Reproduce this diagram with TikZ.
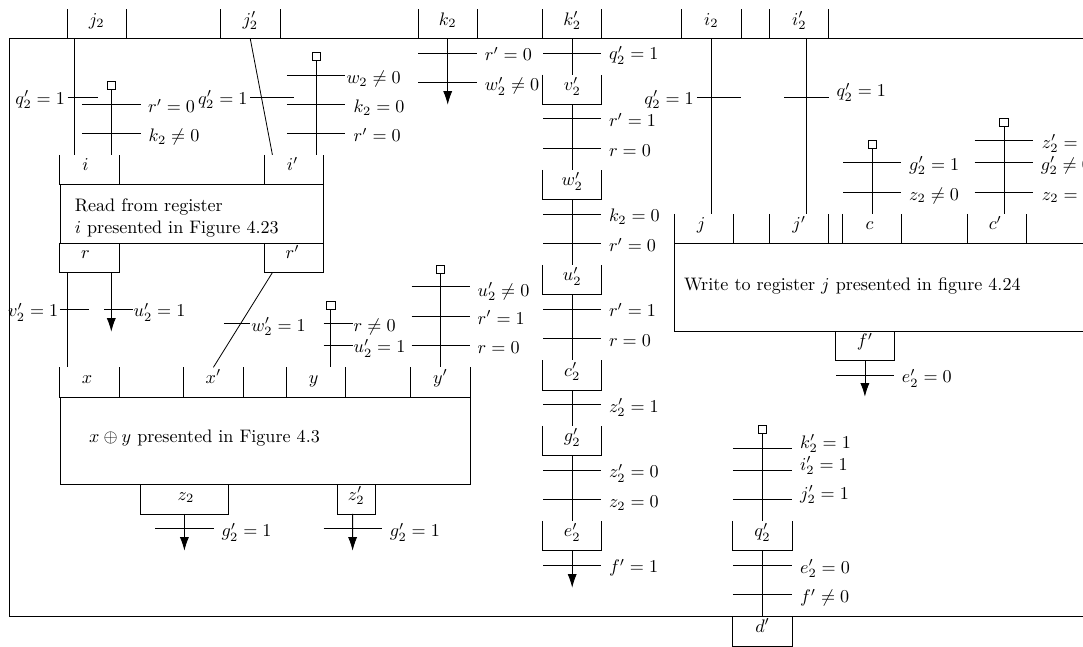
\documentclass[tikz,border=0pt]{standalone}
\usepackage{amsmath}
\usepackage{amssymb}
\usetikzlibrary{arrows.meta,calc}
\tikzset{
  regport/.style={rectangle, inner sep=0pt, minimum width=32.3pt, minimum height=16pt,
                  text height=4.3pt, text depth=3.1pt,
                  append after command={\pgfextra{\draw (\tikzlastnode.north west)--(\tikzlastnode.south west)--(\tikzlastnode.south east)--(\tikzlastnode.north east);}}},
  regblk/.style={rectangle, draw, inner sep=0pt},
  gsq/.style={rectangle, draw, inner sep=0pt, minimum size=4.6pt},
  garr/.style={-{Latex[length=7.5pt,width=5pt]}},
  glab/.style={inner sep=0pt, anchor=base west},
}
% bar across a wire, with its condition: name, x1, x2, y, label x, label baseline, text
\newcommand{\guardbar}[8][glab]{%
  \node[#1] (#2) at (#6,#7) {$#8$};
  \coordinate (#2l) at (#3,#5);
  \coordinate (#2r) at (#4,#5);
  \draw (#2l)--(#2r);
}
\begin{document}
\begin{tikzpicture}[x=0.552pt,y=-0.552pt,line width=0.45pt]
        \useasboundingbox (0,0) rectangle (1083,646);
        \node[regblk,minimum width=613.4pt,minimum height=318.8pt,anchor=north west](frame)at(8.8,38.5){};
        % ports on the frame
        \node[regport](jtwo)at(96.7,24){$j_2$};
        \node[regport](jtwop)at(250.3,24){$j_2'$};
        \node[regport](ktwo)at(447.7,24){$k_2$};
        \node[regport](ktwop)at(572.2,24){$k_2'$};
        \node[regport](itwo)at(711.4,24){$i_2$};
        \node[regport](itwop)at(799.2,24){$i_2'$};
        \node[regport](dp)at(762.5,631){$d'$};
        % read block
        \node[regblk,minimum width=145.3pt,minimum height=32.4pt,anchor=north west](readblk)at(60.2,184.3){};
        \node[inner sep=0pt,anchor=west,align=left](readtxt)at(74.4,218){Read from register\\$i$ presented in Figure 4.23};
        \node[regport](i)at(89.5,169.7){$i\;\,$};
        \node[regport](ip)at(294,169.7){$i'\,$};
        \node[regport](r)at(89.5,257.7){$r\;\,$};
        \node[regport](rp)at(294,257.7){$r'\,$};
        % xor block
        \node[regblk,minimum width=226.2pt,minimum height=48.4pt,anchor=north west](xorblk)at(60.2,396.7){};
        \node[glab](xortxt)at(88.8,442.7){$x\oplus y$ presented in Figure 4.3};
        \node[regport](x)at(89.5,382.2){$x\;$};
        \node[regport](xp)at(213.4,382.2){$x'$};
        \node[regport](y)at(316.1,382.2){$y\;$};
        \node[regport](yp)at(440.4,382.2){$y'$};
        \node[regport,minimum width=48.5pt](ztwo)at(184.4,499){$\,z_2$};
        \node[regport,minimum width=20.4pt](ztwop)at(356.2,499){$z_2'$};
        % write block
        \node[regblk,minimum width=246pt,minimum height=48.4pt,anchor=north west](writeblk)at(674.3,243.3){};
        \node[glab](writetxt)at(683.7,290){Write to register $j$ presented in figure 4.24};
        \node[regport](j)at(703.7,228.7){$j\;$};
        \node[regport](jp)at(799.2,228.7){$j'$};
        \node[regport](c)at(872.1,228.7){$c\;$};
        \node[regport](cp)at(996.8,228.7){$c'\,$};
        \node[regport](fp)at(864.9,345.7){$f'$};
        % middle column
        \node[regport](vtwop)at(572.2,89.5){$v_2'$};
        \node[regport](wtwop)at(572.2,184.7){$w_2'$};
        \node[regport](utwop)at(572.2,279.8){$u_2'$};
        \node[regport](ctwop)at(572.2,375.2){$c_2'$};
        \node[regport](gtwop)at(572.2,440.8){$g_2'$};
        \node[regport](etwop)at(572.2,535.8){$e_2'$};
        \node[regport](qtwop)at(762.5,535.8){$q_2'$};
        % start squares
        \node[gsq](sqi)at(111.3,85.5){};
        \node[gsq](sqip)at(316.1,56.3){};
        \node[gsq](sqy)at(330.9,305.7){};
        \node[gsq](sqyp)at(440.4,269.5){};
        \node[gsq](sqc)at(872.1,144.3){};
        \node[gsq](sqcp)at(1004,122.7){};
        \node[gsq](sqq)at(762.5,429.7){};
        % arrow ends
        \coordinate(ktwoend)at(447.7,104.7);
        \coordinate(rend)at(111.3,331.7);
        \coordinate(ztwoend)at(184.4,550.7);
        \coordinate(ztwopend)at(352.6,550.7);
        \coordinate(etwoend)at(572.2,587.7);
        \coordinate(fpend)at(864.9,396.7);
        % wires
        \draw($(jtwo.south)+(-21.8,0)$)--($(i.north)+(-14.6,0)$);
        \draw(jtwop.south)--($(ip.north)+(-21.6,0)$);
        \draw(sqi.south)--(sqi.south|-i.north);
        \draw(sqip.south)--(sqip.south|-ip.north);
        \draw[garr](ktwo.south)--(ktwoend);
        \draw(ktwop.south)--(vtwop.north);
        \draw(vtwop.south)--(wtwop.north);
        \draw(wtwop.south)--(utwop.north);
        \draw(utwop.south)--(ctwop.north);
        \draw(ctwop.south)--(gtwop.north);
        \draw(gtwop.south)--(etwop.north);
        \draw[garr](etwop.south)--(etwoend);
        \draw(itwo.south)--(itwo.south|-j.north);
        \draw($(itwop.south)+(7,0)$)--($(jp.north)+(7,0)$);
        \draw(sqc.south)--(c.north);
        \draw(sqcp.south)--(sqcp.south|-cp.north);
        \draw[garr](fp.south)--(fpend);
        \draw(sqq.south)--(qtwop.north);
        \draw(qtwop.south)--(dp.north);
        \draw($(r.south)+(-22,0)$)--($(x.north)+(-22,0)$);
        \draw[garr]($(r.south)+(21.8,0)$)--(rend);
        \draw($(rp.south)+(-21.6,0)$)--(xp.north);
        \draw(sqy.south)--(sqy.south|-y.north);
        \draw(sqyp.south)--(yp.north);
        \draw[garr](ztwo.south)--(ztwoend);
        \draw[garr]($(ztwop.south)+(-3.6,0)$)--(ztwopend);
        % conditions
        \guardbar[glab,anchor=base east]{ga}{67.5}{98.1}{97}{65.3}{104.3}{q_2'=1}
        \guardbar{gb}{81.9}{140.5}{104}{147.7}{112.7}{r'=0}
        \guardbar{gc}{81.9}{140.5}{133.5}{148.2}{141.7}{k_2\neq0}
        \guardbar[glab,anchor=base east]{gd}{250}{294.4}{97}{247.9}{104.3}{q_2'=1}
        \guardbar{ge}{286.9}{345.4}{75}{346.1}{83.3}{w_2\neq0}
        \guardbar{gf}{286.9}{345.4}{104}{353.3}{112.7}{k_2=0}
        \guardbar{gg}{286.9}{345.4}{133.5}{353.3}{141.7}{r'=0}
        \guardbar{gh}{418.4}{477.3}{53}{484.5}{60.7}{r'=0}
        \guardbar{gi}{418.4}{477.3}{82}{484.5}{90.7}{w_2'\neq0}
        \guardbar{gj}{543.1}{601.3}{53}{608.6}{60}{q_2'=1}
        \guardbar{gk}{543.1}{601.3}{118.7}{608.6}{126.7}{r'=1}
        \guardbar{gl}{543.1}{601.3}{148}{608.6}{156.7}{r=0}
        \guardbar{gm}{543.1}{601.3}{214}{608.6}{221.7}{k_2=0}
        \guardbar{gn}{543.1}{601.3}{243.3}{608.6}{251.7}{r'=0}
        \guardbar{go}{543.1}{601.3}{309}{608.6}{316.7}{r'=1}
        \guardbar{gp}{543.1}{601.3}{338.3}{608.6}{346.7}{r=0}
        \guardbar{gq}{543.1}{601.3}{404.3}{608.6}{412.3}{z_2'=1}
        \guardbar{gr}{543.1}{601.3}{470}{608.6}{477.7}{z_2'=0}
        \guardbar{gs}{543.1}{601.3}{499.3}{608.6}{507.7}{z_2=0}
        \guardbar{gt}{543.1}{601.3}{565.3}{608.6}{572.7}{f'=1}
        \guardbar[glab,anchor=base east]{gu}{696.9}{740.5}{97}{694.1}{104.3}{q_2'=1}
        \guardbar{gv}{784.4}{828.8}{97}{836.1}{96.7}{q_2'=1}
        \guardbar{gw}{836.1}{894.2}{375}{901.5}{382.7}{e_2'=0}
        \guardbar{gx}{843}{901.2}{162.7}{908.8}{170}{g_2'=1}
        \guardbar{gy}{843}{901.2}{192}{908.8}{200}{z_2\neq0}
        \guardbar{gz}{974.5}{1033.1}{140.7}{1041.5}{148.3}{z_2'=0}
        \guardbar{gaa}{974.5}{1033.1}{162.7}{1040.5}{170}{g_2'\neq0}
        \guardbar{gab}{974.5}{1033.1}{192}{1041.5}{200}{z_2=0}
        \guardbar{gac}{732.9}{792.1}{448}{799.7}{448.3}{k_2'=1}
        \guardbar{gad}{732.9}{792.1}{470}{799.7}{470}{i_2'=1}
        \guardbar{gae}{732.9}{792.1}{499.3}{799.7}{499.3}{j_2'=1}
        \guardbar{gaf}{732.9}{792.1}{565.3}{799.7}{573.3}{e_2'=0}
        \guardbar{gag}{732.9}{792.1}{594.3}{799.7}{602.7}{f'\neq0}
        \guardbar[glab,anchor=base east]{gah}{59.9}{89.2}{309}{58.6}{316.7}{v_2'=1}
        \guardbar{gai}{104}{132.5}{309}{133.3}{316.7}{u_2'=1}
        \guardbar{gaj}{223.9}{250}{323.3}{251}{331}{w_2'=1}
        \guardbar{gak}{323.7}{353}{323.3}{353.3}{331.7}{r\neq0}
        \guardbar{gal}{323.7}{353}{345.3}{353.3}{352.7}{u_2'=1}
        \guardbar{gam}{411.5}{469.8}{286.7}{477.3}{296}{u_2'\neq0}
        \guardbar{gan}{411.5}{469.8}{316.7}{477.3}{324}{r'=1}
        \guardbar{gao}{411.5}{469.8}{345.3}{477.3}{353.3}{r=0}
        \guardbar{gap}{155}{213.5}{528.7}{221.1}{536.7}{g_2'=1}
        \guardbar{gaq}{323.7}{381.9}{528.7}{389.5}{536.7}{g_2'=1}
    \end{tikzpicture}
\end{document}
